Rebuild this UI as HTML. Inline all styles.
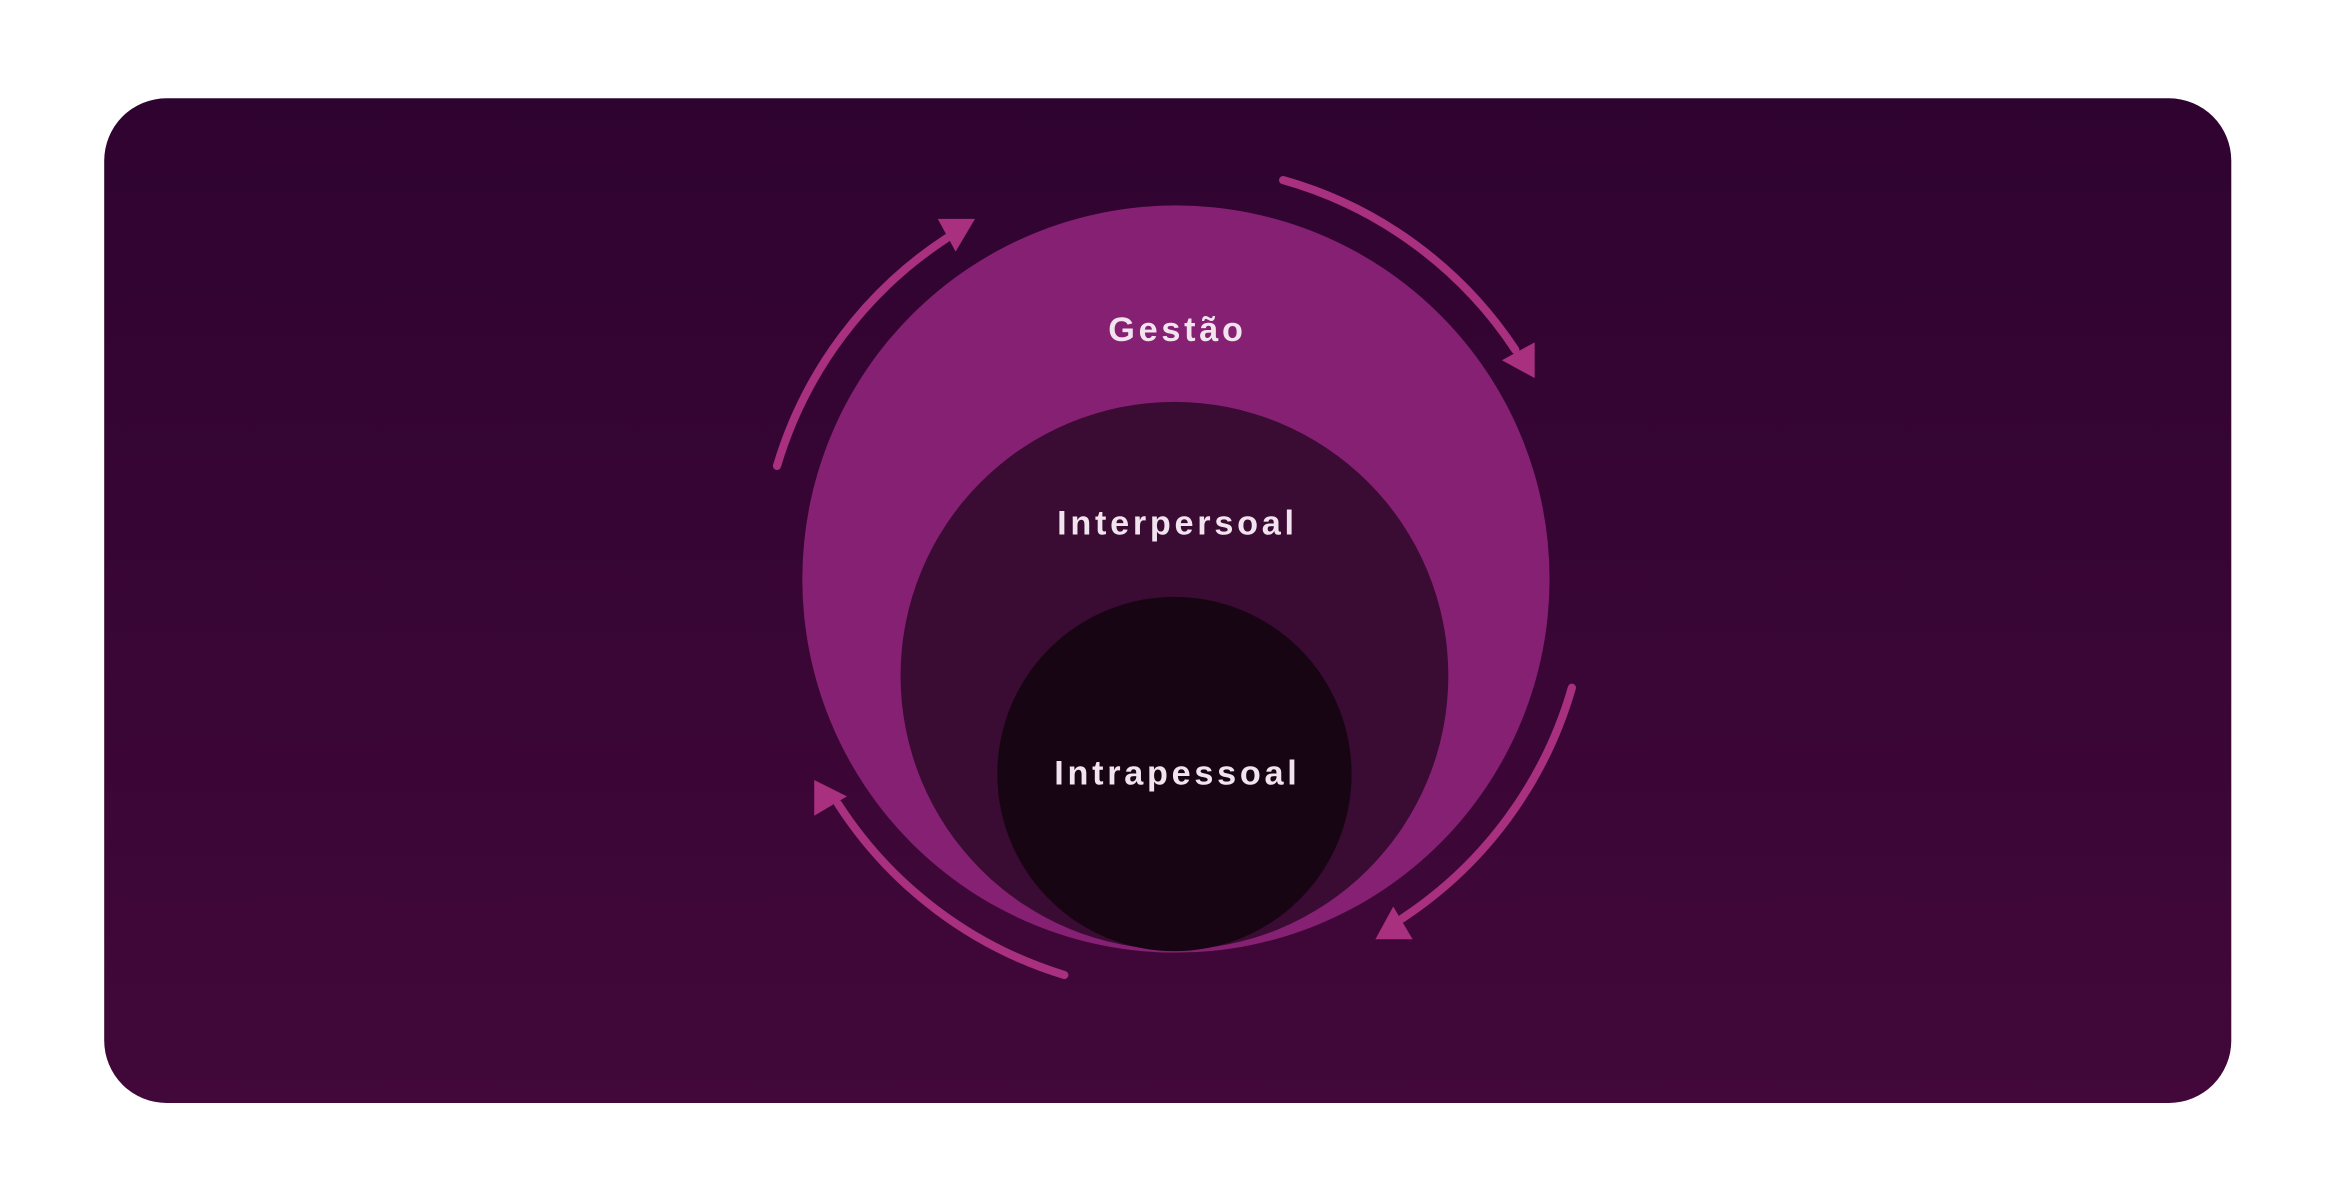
<!DOCTYPE html>
<html><head><meta charset="utf-8"><style>
html,body{margin:0;padding:0;background:#fff;width:2334px;height:1202px;overflow:hidden}
svg{display:block}
</style></head><body>
<svg width="2334" height="1202" viewBox="0 0 1568 807.5" preserveAspectRatio="none" xmlns="http://www.w3.org/2000/svg">
<defs><linearGradient id="bg" x1="0" y1="0" x2="0" y2="1"><stop offset="0" stop-color="#2f0330"/><stop offset="1" stop-color="#410839"/></linearGradient></defs>
<rect x="70" y="66" width="1429" height="675" rx="42" fill="url(#bg)"/>
<circle cx="790" cy="389" r="251" fill="#862073"/>
<circle cx="789" cy="454" r="184" fill="#3a0b33"/>
<circle cx="789" cy="520" r="119" fill="#170514"/>
<g font-family="Liberation Sans, sans-serif" font-weight="bold" font-size="23" letter-spacing="2.5" fill="#f1e4ee" text-anchor="middle">
<text x="791" y="229">Gestão</text>
<text x="791" y="359">Interpersoal</text>
<text x="791" y="527">Intrapessoal</text>
</g>
<g fill="none" stroke="#a8307f" stroke-width="5.5" stroke-linecap="round">
<path d="M522 313 A277 277 0 0 1 636 160"/>
<path d="M862 121 A277 277 0 0 1 1018 235"/>
<path d="M1056 462 A277 277 0 0 1 942 617"/>
<path d="M715 655 A277 277 0 0 1 563 540"/>
</g>
<g fill="#a8307f">
<polygon points="630,147 655,147 642,169"/>
<polygon points="1031,230 1031,254 1009,242"/>
<polygon points="924,631 949,631 936,609"/>
<polygon points="547,524 547,548 569,535"/>
</g>
</svg>
</body></html>
